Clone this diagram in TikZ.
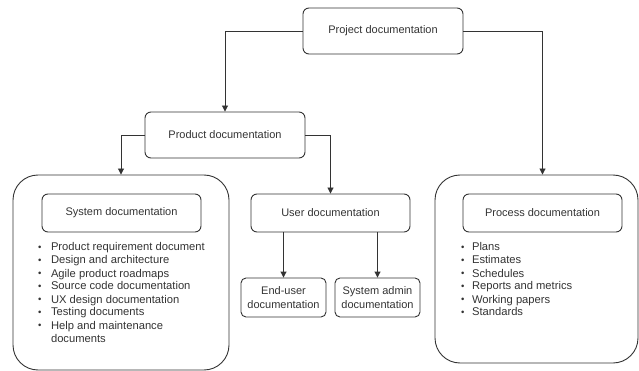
\documentclass[tikz,border=0pt]{standalone}
\usepackage{fontspec}
\setmainfont{Liberation Sans}
\usetikzlibrary{arrows.meta}
\definecolor{inkgray}{HTML}{333333}

\newcommand{\listdot}{\raisebox{0.8pt}{\fontsize{9.5}{13}\selectfont\textbullet}}

\tikzset{
  docbox/.style={draw=inkgray, line width=0.9pt, rounded corners=6pt, minimum width=159pt, minimum height=38pt,
    inner sep=0pt, text=inkgray, font=\fontsize{11}{14}\selectfont, align=center},
  groupbox/.style={draw=inkgray, line width=0.9pt, rounded corners=25pt, inner sep=0pt},
  doclist/.style={anchor=base west, inner sep=0pt, text=inkgray, font=\fontsize{11.2}{13}\selectfont},
  link/.style={draw=inkgray, line width=0.9pt, -{Triangle[length=6pt,width=6pt]}},
}

\begin{document}
\begin{tikzpicture}[x=1pt,y=1pt,yscale=-1,xscale=1]
\useasboundingbox (0,0) rectangle (639,371);

% top levels
\node[docbox, minimum width=160pt, minimum height=46pt] (projdoc) at (383,31) {Project documentation};
\node[docbox, minimum width=160pt, minimum height=46pt] (proddoc) at (225,135) {Product documentation};

% group frames
\node[groupbox, minimum width=216pt, minimum height=195pt] (sysgroup) at (121,272.5) {};
\node[groupbox, minimum width=203pt, minimum height=188pt] (procgroup) at (536.5,269) {};

% second level
\node[docbox] (sysdoc) at (121.5,213) {System documentation};
\node[docbox] (userdoc) at (330.5,213) {User documentation};
\node[docbox] (procdoc) at (542.5,213) {Process documentation};

% user documentation parts
\node[docbox, minimum width=85pt, minimum height=39pt, rounded corners=5pt] (enduser) at (283.5,297.5) {End-user\\documentation};
\node[docbox, minimum width=85pt, minimum height=39pt, rounded corners=5pt] (sysadmin) at (377.5,297.5) {System admin\\documentation};

% bullet lists
\node[doclist] (syslist) at (38,251) {\begin{tabular}[t]{@{}l@{\hspace{9.5pt}}l@{}}
\listdot & Product requirement document\\
\listdot & Design and architecture\\
\listdot & Agile product roadmaps\\
\listdot & Source code documentation\\
\listdot & UX design documentation\\
\listdot & Testing documents\\
\listdot & Help and maintenance\\
         & documents
\end{tabular}};
\node[doclist] (proclist) at (461,251) {\begin{tabular}[t]{@{}l@{\hspace{7.5pt}}l@{}}
\listdot & Plans\\
\listdot & Estimates\\
\listdot & Schedules\\
\listdot & Reports and metrics\\
\listdot & Working papers\\
\listdot & Standards
\end{tabular}};

% connectors
\draw[link] (projdoc.west) -| (proddoc.north);
\draw[link] (projdoc.east) -| (procgroup.north -| procdoc.north);
\draw[link] (proddoc.west) -| (sysgroup.north);
\draw[link] (proddoc.east) -| (userdoc.north);
\draw[link] (enduser.north |- userdoc.south) -- (enduser.north);
\draw[link] (sysadmin.north |- userdoc.south) -- (sysadmin.north);

\end{tikzpicture}
\end{document}
